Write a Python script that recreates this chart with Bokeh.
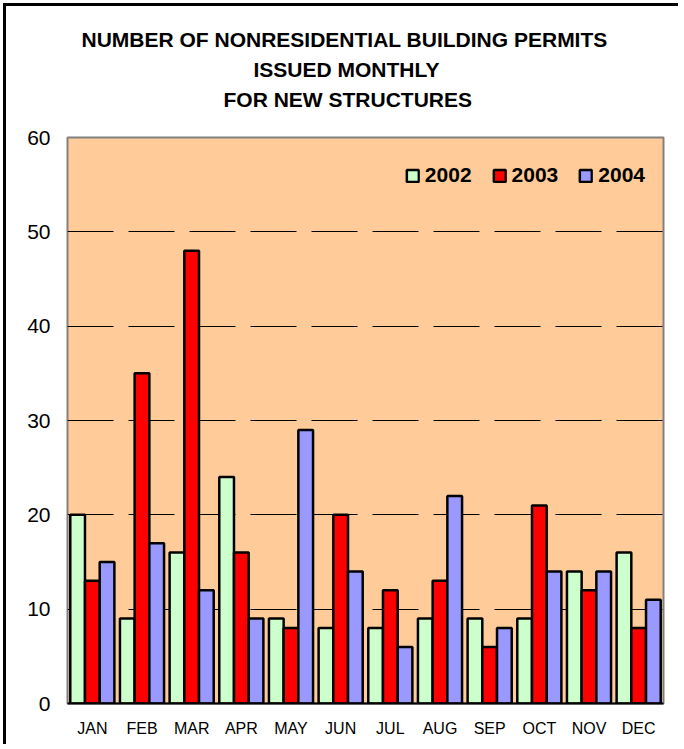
from bokeh.plotting import figure
from bokeh.models import FactorRange, Range1d, ColumnDataSource, Title, Legend, LegendItem
from bokeh.transform import dodge
from bokeh.embed import file_html
from bokeh.resources import INLINE

months = ["JAN", "FEB", "MAR", "APR", "MAY", "JUN", "JUL", "AUG", "SEP", "OCT", "NOV", "DEC"]
y2002 = [20, 9, 16, 24, 9, 8, 8, 9, 9, 9, 14, 16]
y2003 = [13, 35, 48, 16, 8, 20, 12, 13, 6, 21, 12, 8]
y2004 = [15, 17, 12, 9, 29, 14, 6, 22, 8, 14, 14, 11]
years = ["2002", "2003", "2004"]
colors = ["#CCFFCC", "#FF0000", "#9999FF"]
title_lines = ["NUMBER OF NONRESIDENTIAL BUILDING PERMITS", "ISSUED MONTHLY", "FOR NEW STRUCTURES"]
title_offsets = [14, 186, 156]   # px from the plot-area left edge, so each line sits centred on the chart

src = ColumnDataSource(dict(month=months, y2002=y2002, y2003=y2003, y2004=y2004))

p = figure(x_range=FactorRange(*months), y_range=Range1d(0, 60),
           width=675, height=741, output_backend="svg", toolbar_location=None,
           min_border_left=61, min_border_right=18, min_border_top=131, min_border_bottom=44)
# black chart-area frame on the left and top edges
p.styles = {"margin-left": "6px", "margin-top": "6px", "box-shadow": "-3px -3px 0 0 black"}

# spacer between the title block and the plot area
p.add_layout(Title(text=" ", text_font_size="10px", standoff=11), "above")
for line, off in reversed(list(zip(title_lines, title_offsets))):
    p.add_layout(Title(text=line, align="left", offset=off, standoff=5,
                       text_font="Liberation Sans", text_font_size="21px",
                       text_font_style="bold", text_color="black"), "above")

p.background_fill_color = "#FFCC99"
p.border_fill_color = "white"
p.outline_line_color = "#808080"
p.outline_line_width = 2

w = 0.296
items = []
for i, (key, col) in enumerate(zip(["y2002", "y2003", "y2004"], colors)):
    r = p.vbar(x=dodge("month", (i - 1) * w, range=p.x_range), top=key, width=w, source=src,
               fill_color=col, line_color="black", line_width=2.5)
    items.append(LegendItem(label=years[i], renderers=[r]))

legend = Legend(items=items, orientation="horizontal", location="top_right",
                background_fill_alpha=0, border_line_alpha=0,
                label_text_font="Liberation Sans", label_text_font_size="21px",
                label_text_font_style="bold", label_text_color="black",
                glyph_width=15, glyph_height=15,
                label_standoff=5, spacing=20, margin=18, padding=0, label_height=40)
p.add_layout(legend, "center")

p.xgrid.grid_line_color = None
p.ygrid.grid_line_color = "black"
p.ygrid.grid_line_width = 1
p.ygrid.grid_line_dash = "46 15"

p.yaxis.ticker = [0, 10, 20, 30, 40, 50, 60]
p.yaxis.axis_line_color = None
p.yaxis.major_tick_line_color = None
p.yaxis.minor_tick_line_color = None
p.yaxis.major_label_text_font = "Liberation Sans"
p.yaxis.major_label_text_font_size = "21px"
p.yaxis.major_label_text_color = "black"
p.yaxis.major_label_standoff = 11

p.xaxis.axis_line_color = "black"
p.xaxis.axis_line_width = 2
p.xaxis.major_tick_line_color = None
p.xaxis.minor_tick_line_color = None
p.xaxis.major_label_text_font = "Liberation Sans"
p.xaxis.major_label_text_font_size = "16px"
p.xaxis.major_label_text_color = "black"
p.xaxis.major_label_standoff = 10
p.x_range.range_padding = 0
p.x_range.group_padding = 0

open("out.html", "w").write(file_html(p, INLINE))
